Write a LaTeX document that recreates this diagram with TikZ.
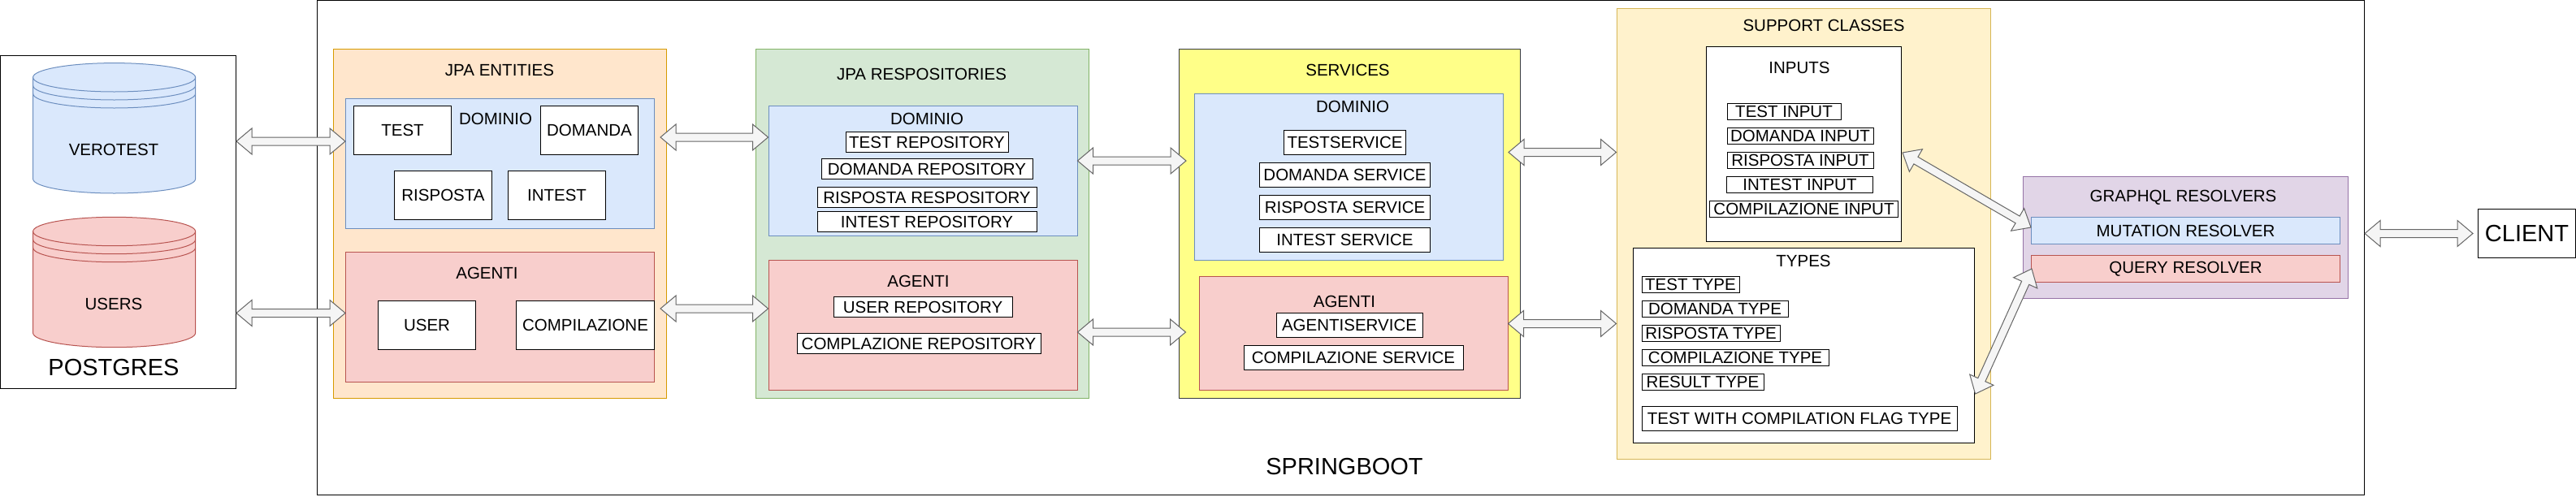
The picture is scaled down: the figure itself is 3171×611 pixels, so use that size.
\documentclass[tikz,border=0pt]{standalone}
\usepackage{fontspec}
\setmainfont{Liberation Sans}
\usetikzlibrary{calc}

\definecolor{bluefill}{HTML}{DAE8FC}
\definecolor{bluedraw}{HTML}{6C8EBF}
\definecolor{redfill}{HTML}{F8CECC}
\definecolor{reddraw}{HTML}{B85450}
\definecolor{orangefill}{HTML}{FFE6CC}
\definecolor{orangedraw}{HTML}{D79B00}
\definecolor{greenfill}{HTML}{D5E8D4}
\definecolor{greendraw}{HTML}{82B366}
\definecolor{yellowfill}{HTML}{FFFF88}
\definecolor{yellowdraw}{HTML}{36393D}
\definecolor{creamfill}{HTML}{FFF2CC}
\definecolor{creamdraw}{HTML}{D6B656}
\definecolor{purplefill}{HTML}{E1D5E7}
\definecolor{purpledraw}{HTML}{9673A6}
\definecolor{linkfill}{HTML}{F5F5F5}
\definecolor{linkdraw}{HTML}{666666}

\tikzset{
  label text/.style={font=\fontsize{20.5}{24}\selectfont, inner sep=0pt},
  big text/.style={font=\fontsize{29}{34}\selectfont, inner sep=0pt},
  panel/.style={draw, line width=1pt, inner sep=0pt},
  item/.style={panel, fill=white, draw=black, label text},
  column/.style={panel, minimum height=430},
  bluebox/.style={panel, fill=bluefill, draw=bluedraw, label text, minimum width=380},
  redbox/.style={panel, fill=redfill, draw=reddraw, label text, minimum width=380},
  link/.style={draw=linkdraw, fill=linkfill, line width=1pt, to path={
    let \p1=($(\tikztostart)!19pt!(\tikztotarget)$),
        \p2=($(\tikztotarget)!19pt!(\tikztostart)$) in
    (\tikztostart) -- ($(\p1)!16pt!90:(\p2)$) -- ($(\p1)!5pt!90:(\p2)$)
    -- ($(\p2)!5pt!-90:(\p1)$) -- ($(\p2)!16pt!-90:(\p1)$) -- (\tikztotarget)
    -- ($(\p2)!16pt!90:(\p1)$) -- ($(\p2)!5pt!90:(\p1)$)
    -- ($(\p1)!5pt!-90:(\p2)$) -- ($(\p1)!16pt!-90:(\p2)$) -- cycle}}
}

\begin{document}
\begin{tikzpicture}[x=1pt, y=-1pt]
  \useasboundingbox (0,0) rectangle (3171,611);

  % postgres and springboot
  \node[item, minimum width=2520, minimum height=609] (springboot) at (1650.5,305) {};
  \node[item, minimum width=290, minimum height=410] (postgres) at (145.5,273) {};
  \node[big text] (postgresText) at (140,453) {POSTGRES};
  \node[big text] (springbootText) at (1655,575) {SPRINGBOOT};

  \foreach \nm/\ytop/\fc/\dc/\txt in {verotest/95.3/bluefill/bluedraw/VEROTEST, users/285/redfill/reddraw/USERS} {
    \filldraw[fill=\fc, draw=\dc, line width=1pt] (40.6,\ytop)
      arc[start angle=180, end angle=0, x radius=100pt, y radius=17.7pt]
      -- (240.6,\ytop+125) arc[start angle=0, end angle=-180, x radius=100pt, y radius=17.7pt] -- cycle;
    \foreach \dy in {0,10,20}
      \draw[draw=\dc, line width=1pt] (40.6,\ytop+\dy)
        arc[start angle=180, end angle=360, x radius=100pt, y radius=17.7pt];
    \node[label text] (\nm) at (140,\ytop+89) {\txt};
  }

  % jpa entities
  \node[column, fill=orangefill, draw=orangedraw, minimum width=410] (entities) at (615,275) {};
  \node[label text] (entitiesText) at (615,86) {JPA ENTITIES};
  \node[bluebox, minimum height=160] (entDominio) at (615.5,201) {};
  \node[label text] (entDominioText) at (610,146) {DOMINIO};
  \node[item, minimum width=120, minimum height=60] (entTest) at (495.5,160.5) {TEST};
  \node[item, minimum width=120, minimum height=60] (entDomanda) at (725.5,160.5) {DOMANDA};
  \node[item, minimum width=120, minimum height=60] (entRisposta) at (545.5,240.5) {RISPOSTA};
  \node[item, minimum width=120, minimum height=60] (entIntest) at (685.5,240.5) {INTEST};
  \node[redbox, minimum height=160] (entAgenti) at (615.5,390.5) {};
  \node[label text] (entAgentiText) at (599.5,336) {AGENTI};
  \node[item, minimum width=120, minimum height=60] (entUser) at (525.5,400.5) {USER};
  \node[item, minimum width=170, minimum height=60] (entCompilazione) at (720.5,400.5) {COMPILAZIONE};

  % jpa repositories
  \node[column, fill=greenfill, draw=greendraw, minimum width=410] (repos) at (1135.5,275) {};
  \node[label text] (reposText) at (1134.5,91) {JPA RESPOSITORIES};
  \node[bluebox, minimum height=160] (repoDominio) at (1136,210.5) {};
  \node[label text] (repoDominioText) at (1141,146) {DOMINIO};
  \node[item, minimum width=200, minimum height=25] (repoTest) at (1141,175) {TEST REPOSITORY};
  \node[item, minimum width=260, minimum height=25] (repoDomanda) at (1141,208) {DOMANDA REPOSITORY};
  \node[item, minimum width=270, minimum height=25] (repoRisposta) at (1141,243) {RISPOSTA RESPOSITORY};
  \node[item, minimum width=270, minimum height=25] (repoIntest) at (1141,273) {INTEST REPOSITORY};
  \node[redbox, minimum height=160] (repoAgenti) at (1136,400.5) {};
  \node[label text] (repoAgentiText) at (1130.5,346.5) {AGENTI};
  \node[item, minimum width=220, minimum height=25] (repoUser) at (1136,378) {USER REPOSITORY};
  \node[item, minimum width=300, minimum height=25] (repoCompilazione) at (1131,423) {COMPLAZIONE REPOSITORY};

  % services
  \node[column, fill=yellowfill, draw=yellowdraw, minimum width=420] (services) at (1661,275) {};
  \node[label text] (servicesText) at (1659,86) {SERVICES};
  \node[bluebox, minimum height=205] (servDominio) at (1660.5,218) {};
  \node[label text] (servDominioText) at (1665,131) {DOMINIO};
  \node[item, minimum width=150, minimum height=30] (servTest) at (1655.5,175.5) {TESTSERVICE};
  \node[item, minimum width=210, minimum height=30] (servDomanda) at (1655.5,215.5) {DOMANDA SERVICE};
  \node[item, minimum width=210, minimum height=30] (servRisposta) at (1655.5,255.5) {RISPOSTA SERVICE};
  \node[item, minimum width=210, minimum height=30] (servIntest) at (1655.5,295.5) {INTEST SERVICE};
  \node[redbox, minimum height=140] (servAgenti) at (1666,410.5) {};
  \node[label text] (servAgentiText) at (1655,371) {AGENTI};
  \node[item, minimum width=180, minimum height=30] (servAgente) at (1661,400.5) {AGENTISERVICE};
  \node[item, minimum width=270, minimum height=30] (servCompilazione) at (1666,440.5) {COMPILAZIONE SERVICE};

  % support classes
  \node[panel, fill=creamfill, draw=creamdraw, minimum width=460, minimum height=555] (support) at (2220,288) {};
  \node[label text] (supportText) at (2245,31.5) {SUPPORT CLASSES};
  \node[item, minimum width=240, minimum height=240] (inputs) at (2220.5,177.5) {};
  \node[label text] (inputsText) at (2215,83) {INPUTS};
  \node[item, minimum width=140, minimum height=20] (inTest) at (2196,137.5) {TEST INPUT};
  \node[item, minimum width=180, minimum height=20] (inDomanda) at (2216,167.5) {DOMANDA INPUT};
  \node[item, minimum width=180, minimum height=20] (inRisposta) at (2216,197.5) {RISPOSTA INPUT};
  \node[item, minimum width=180, minimum height=20] (inIntest) at (2215.5,227.5) {INTEST INPUT};
  \node[item, minimum width=232, minimum height=20] (inCompilazione) at (2220.5,257.5) {COMPILAZIONE INPUT};
  \node[item, minimum width=420, minimum height=240] (types) at (2220,425.5) {};
  \node[label text] (typesText) at (2220,321.5) {TYPES};
  \node[item, minimum width=120, minimum height=20] (tyTest) at (2081,350.5) {TEST TYPE};
  \node[item, minimum width=180, minimum height=20] (tyDomanda) at (2111,380.5) {DOMANDA TYPE};
  \node[item, minimum width=170, minimum height=20] (tyRisposta) at (2106,410.5) {RISPOSTA TYPE};
  \node[item, minimum width=230, minimum height=20] (tyCompilazione) at (2136,440.5) {COMPILAZIONE TYPE};
  \node[item, minimum width=150, minimum height=20] (tyResult) at (2096,470.5) {RESULT TYPE};
  \node[item, minimum width=388, minimum height=30] (tyFlag) at (2215,515.5) {TEST WITH COMPILATION FLAG TYPE};

  % graphql
  \node[panel, fill=purplefill, draw=purpledraw, minimum width=400, minimum height=150] (graphql) at (2690.5,292.5) {};
  \node[label text] (graphqlText) at (2687.5,243.5) {GRAPHQL RESOLVERS};
  \node[bluebox, minimum height=33] (mutation) at (2690.5,284) {MUTATION RESOLVER};
  \node[redbox, minimum height=33] (query) at (2690.5,331) {QUERY RESOLVER};

  % client
  \node[item, big text, minimum width=120, minimum height=60] (client) at (3110.5,287.5) {CLIENT};

  % connectors
  \draw[link] (postgres.east |- 0,174) to (entDominio.west |- 0,174);
  \draw[link] (postgres.east |- 0,385.5) to (entAgenti.west |- 0,385.5);
  \draw[link] ([xshift=7]entDominio.east |- 0,169) to (repoDominio.west |- 0,169);
  \draw[link] ([xshift=7]entAgenti.east |- 0,380) to (repoAgenti.west |- 0,380);
  \draw[link] (repoDominio.east |- 0,198) to ([xshift=-10]servDominio.west |- 0,198);
  \draw[link] (repoAgenti.east |- 0,409) to ([xshift=-16]servAgenti.west |- 0,409);
  \draw[link] ([xshift=6]servDominio.east |- 0,187.5) to (support.west |- 0,187.5);
  \draw[link] (servAgenti.east |- 0,398.5) to (support.west |- 0,398.5);
  \draw[link] ([xshift=1]inputs.east |- 0,188) to (mutation.west |- 0,280);
  \draw[link] ([xshift=1]query.west) to ([xshift=1]types.east |- 0,485);
  \draw[link] (springboot.east |- client.west) to ([xshift=-6]client.west);
\end{tikzpicture}
\end{document}
